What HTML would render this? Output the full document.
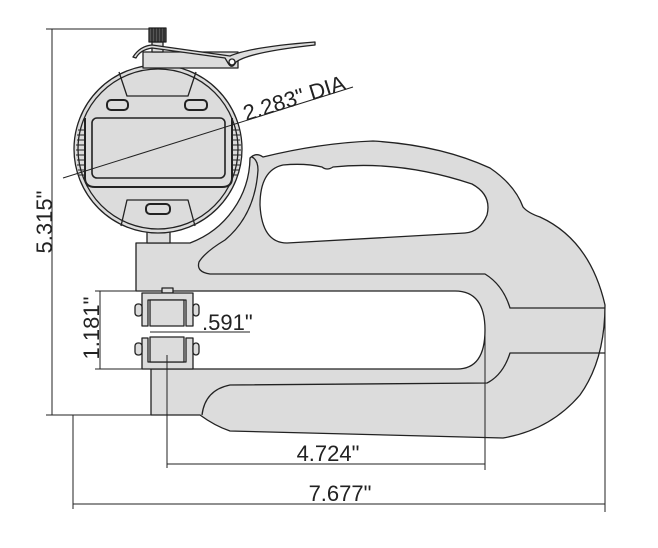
<!DOCTYPE html>
<html><head><meta charset="utf-8"><style>html,body{margin:0;padding:0;background:#fff}svg{display:block}</style></head>
<body>
<svg width="658" height="548" viewBox="0 0 658 548" xmlns="http://www.w3.org/2000/svg" font-family="Liberation Sans, sans-serif">
<g stroke="#222" stroke-width="1.3" fill="#dcdcdc" stroke-linejoin="round">
<path d="M136,243 L190,243 A92,92 0 0 0 250,158 Q256,152 263,157 Q320,143 373,141 Q440,145 490,168 Q515,185 523,207 Q528,213 540,217 Q590,240 605,305 Q605,360 580,395 Q550,430 503,438 L230,431 Q215,426 200,415 L151,415 L151,369 L457,369 Q485,369 485,330 Q485,291 455,291 L136,291 Z"/>
<path d="M283,165 Q305,163 322,167 Q327,171 333,167 Q400,160 472,184 Q492,195 487,215 Q480,232 465,233 L287,243 Q262,243 260,205 Q260,170 283,165 Z" fill="#fff"/>
<path d="M370,274 L210,274 Q196,272 199,262 Q205,252 225,240 Q255,215 258,170 Q258,160 252,157" fill="none"/>
<path d="M370,274 L485,274 Q503,285 510,308 L605,308" fill="none"/>
<path d="M605,353 L510,353 Q503,375 487,383 L230,385 Q205,390 202,415" fill="none"/>
<rect x="147" y="228" width="23" height="15"/>
<circle cx="158" cy="149" r="84"/>
<circle cx="158" cy="149" r="80" fill="none"/>
<path d="M85,118 L85,178 Q85,187 95,187 L222,187 Q232,187 232,178 L232,118" fill="none" stroke-width="2"/>
<rect x="92" y="118" width="133" height="60" rx="5" stroke-width="1.6"/>
<path d="M119,72 L127,96 L188,96 L196,72" fill="none"/>
<rect x="107" y="100" width="21" height="10" rx="4" stroke-width="2"/>
<rect x="185" y="100" width="22" height="10" rx="4" stroke-width="2"/>
<path d="M121,226 L127,200 L188,200 L195,226" fill="none"/>
<rect x="146" y="204" width="24" height="10" rx="4" stroke-width="2"/>
<g stroke-width="1" fill="none">
<path d="M78,130 L84,130 M77,135 L84,135 M77,140 L84,140 M76,145 L84,145 M76,150 L84,150 M76,155 L84,155 M77,160 L84,160 M77,165 L84,165 M78,170 L84,170 M79,175 L84,175"/>
<path d="M233,130 L239,130 M233,135 L240,135 M233,140 L240,140 M233,145 L241,145 M233,150 L241,150 M233,155 L241,155 M233,160 L240,160 M233,165 L240,165 M233,170 L239,170 M233,175 L238,175"/>
</g>
<rect x="143" y="52" width="95" height="16"/>
<rect x="152" y="42" width="11" height="10"/>
<path d="M133,57 Q140,46 152,45 L230,56 Q250,47 315,42 L315,45 Q250,52 236,62 Q232,70 228,63 L225,58 L152,48 Q140,50 136,58 Z"/>
<circle cx="232" cy="62" r="3" fill="#fff"/>
<rect x="149" y="28" width="17" height="14" fill="#555"/>
<path d="M152,28 V42 M155,28 V42 M158,28 V42 M161,28 V42 M164,28 V42" stroke="#111" stroke-width="1"/>
<rect x="162" y="288" width="11" height="5"/>
<path d="M142,293 L193,293 L193,326 L186,326 L186,300 L148,300 L148,326 L142,326 Z"/>
<rect x="150" y="300" width="34" height="26"/>
<path d="M142,369 L193,369 L193,338 L186,338 L186,362 L148,362 L148,338 L142,338 Z"/>
<rect x="150" y="337" width="34" height="25"/>
<rect x="135" y="304" width="7" height="12" rx="3"/>
<rect x="193" y="304" width="6" height="12" rx="3"/>
<rect x="135" y="343" width="7" height="12" rx="3"/>
<rect x="193" y="343" width="6" height="12" rx="3"/>
</g>
<g stroke="#222" stroke-width="1" fill="none">
<path d="M46,29 L150,29 M52,29 L52,415 M46,415 L151,415"/>
<path d="M95,291 L136,291 M95,369 L142,369 M100,291 L100,369"/>
<path d="M150,332 L250,332"/>
<path d="M167,355 L167,468 M167,464 L485,464 M485,332 L485,470"/>
<path d="M73,415 L73,509 M73,504 L605,504 M605,310 L605,512"/>
<path d="M63,178 L353,87"/>
</g>
<g fill="#222" font-size="22">
<text x="44" y="222" transform="rotate(-90 44 222)" text-anchor="middle" dy="8">5.315"</text>
<text x="91" y="328" transform="rotate(-90 91 328)" text-anchor="middle" dy="8">1.181"</text>
<text x="202" y="330">.591"</text>
<text x="328" y="461" text-anchor="middle">4.724"</text>
<text x="340" y="501" text-anchor="middle">7.677"</text>
<text x="246" y="121" transform="rotate(-17.4 246 121)">2.283" DIA</text>
</g>
</svg>
</body></html>
